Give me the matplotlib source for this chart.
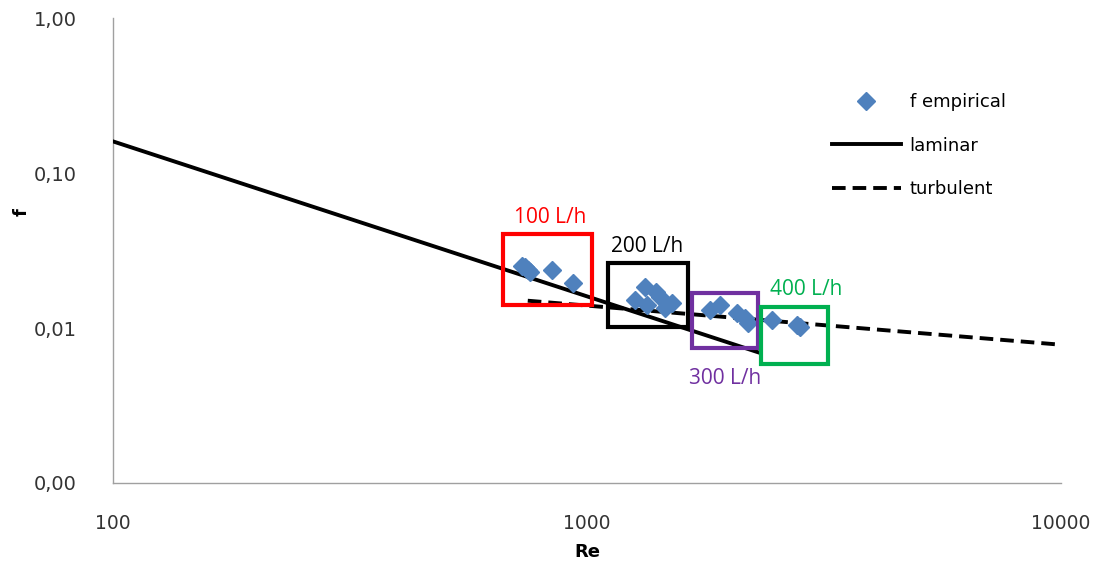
import matplotlib.pyplot as plt
from matplotlib.ticker import FixedLocator, NullLocator, FuncFormatter
from matplotlib.patches import Rectangle

re_emp = [730, 740, 750, 758, 844, 934,
          1263, 1325, 1339, 1400, 1426, 1461, 1512,
          1817, 1909, 2072, 2153, 2187,
          2457, 2780, 2813]
f_emp = [0.0250, 0.0248, 0.0238, 0.0230, 0.0237, 0.0195,
         0.0152, 0.0184, 0.0141, 0.0170, 0.0158, 0.0135, 0.0145,
         0.0131, 0.0141, 0.0125, 0.0116, 0.0108,
         0.0113, 0.0104, 0.0101]

# Rectas teoricas (extremos)
re_lam = [100, 2300]
f_lam = [0.16, 0.00696]
re_turb = [750, 10000]
f_turb = [0.0150, 0.0078]

# Recuadros de caudal: (Re_min, Re_max, f_min, f_max)
cajas_etiquetas = ['100 L/h', '200 L/h', '300 L/h', '400 L/h']
cajas_colores = ['#FF0000', '#000000', '#7030A0', '#00B050']
cajas_re = [(665, 1024), (1107, 1633), (1665, 2296), (2328, 3222)]
cajas_f = [(0.01406, 0.0404), (0.01015, 0.0262), (0.00743, 0.01683), (0.00586, 0.01365)]
etiquetas_pos = [(835, 0.052), (1340, 0.0335), (1960, 0.00475), (2900, 0.0178)]

fig = plt.figure(figsize=(11.02, 5.63), dpi=100)
ax = fig.add_axes([0.1025, 0.1421, 0.8603, 0.8259])

ax.plot(re_emp, f_emp, linestyle='none', marker='D', markersize=9.5,
        color='#4F81BD', label='f empirical', zorder=4)
ax.plot(re_lam, f_lam, color='black', linewidth=2.8, label='laminar', zorder=3)
ax.plot(re_turb, f_turb, color='black', linewidth=2.8, linestyle=(0, (3.5, 1.8)),
        label='turbulent', zorder=3)

for (r0, r1), (f0, f1), col in zip(cajas_re, cajas_f, cajas_colores):
    ax.add_patch(Rectangle((r0, f0), r1 - r0, f1 - f0, fill=False,
                           edgecolor=col, linewidth=3, zorder=5))
for (x, y), txt, col in zip(etiquetas_pos, cajas_etiquetas, cajas_colores):
    ax.text(x, y, txt, color=col, fontsize=15, ha='center', va='center',
            family='Open Sans')

ax.set_xscale('log')
ax.set_yscale('log')
ax.set_xlim(100, 10000)
ax.set_ylim(0.001, 1)

ax.xaxis.set_major_locator(FixedLocator([100, 1000, 10000]))
ax.yaxis.set_major_locator(FixedLocator([0.001, 0.01, 0.1, 1]))
ax.xaxis.set_minor_locator(NullLocator())
ax.yaxis.set_minor_locator(NullLocator())
ax.xaxis.set_major_formatter(FuncFormatter(lambda v, p: f'{v:.0f}'))
ax.yaxis.set_major_formatter(FuncFormatter(lambda v, p: f'{v:.2f}'.replace('.', ',')))
ax.tick_params(axis='both', length=0, colors='#333333')
ax.tick_params(axis='x', pad=22, labelsize=13.5)
ax.tick_params(axis='y', pad=26, labelsize=14)

for lado in ['top', 'right']:
    ax.spines[lado].set_visible(False)
for lado in ['left', 'bottom']:
    ax.spines[lado].set_color('#A0A0A0')
    ax.spines[lado].set_linewidth(1)

# Titulos de ejes
fig.text(587 / 1102, 1 - 552 / 563, 'Re', fontsize=13, fontweight='bold',
         ha='center', va='center')
fig.text(22 / 1102, 1 - 212 / 563, 'f', fontsize=13, fontweight='bold',
         ha='center', va='center', rotation=90)

ax.legend(loc='upper left', bbox_to_anchor=(832 / 1102, 1 - 93 / 563),
          bbox_transform=fig.transFigure, frameon=False, borderpad=0,
          borderaxespad=0, fontsize=13, handlelength=3.8, labelspacing=1.42,
          handletextpad=0.5)

fig.savefig('out.png', dpi=100)
